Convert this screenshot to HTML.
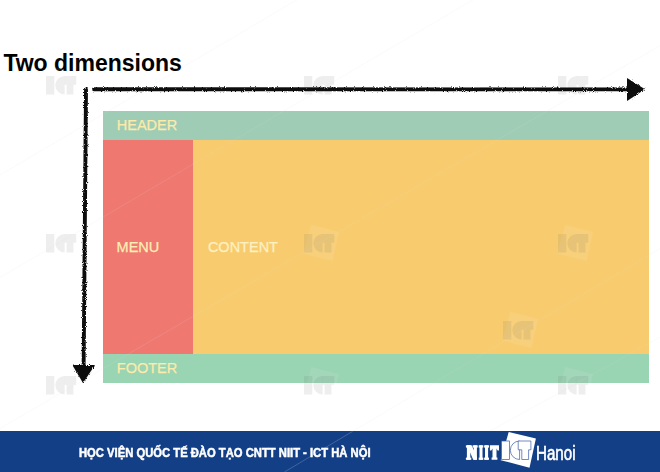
<!DOCTYPE html>
<html><head><meta charset="utf-8">
<style>
html,body{margin:0;padding:0;}
body{width:660px;height:472px;background:#fff;position:relative;overflow:hidden;font-family:"Liberation Sans",sans-serif;}
.abs{position:absolute;}
#title{left:3.4px;top:49px;font-size:23px;font-weight:bold;color:#000;line-height:28px;white-space:nowrap;transform-origin:0 0;transform:scaleX(1);}
#hdr{left:103px;top:111px;width:545.5px;height:29px;background:#9fccb5;}
#menu{left:103px;top:140px;width:90px;height:214px;background:#ef7871;}
#content{left:193px;top:140px;width:455.5px;height:214px;background:#f8cc6e;}
#ftr{left:103px;top:354px;width:545.5px;height:29px;background:#99d4b3;}
.lbl{font-size:14.5px;line-height:18px;white-space:nowrap;-webkit-text-stroke:0.25px currentColor;}
#bar{left:0;top:431px;width:660px;height:41px;background:#133f87;}
#bartxt{left:79.4px;top:444.6px;font-size:12.2px;font-weight:bold;color:#fff;line-height:16px;white-space:nowrap;transform-origin:0 0;transform:scaleX(0.922);-webkit-text-stroke:0.5px #fff;}
#hanoi{left:536px;top:441.3px;font-size:20.8px;color:#fff;line-height:24px;white-space:nowrap;transform-origin:0 0;transform:scaleX(0.728);-webkit-text-stroke:0.65px #fff;}
</style></head><body>
<!-- watermarks on white -->
<svg class="abs" style="left:0;top:0" width="660" height="472" viewBox="0 0 660 472">
<defs>
<g id="ict">
  <rect x="0" y="0" width="8.3" height="18.5"/>
  <path d="M18.6 0 A9.25 9.25 0 0 0 18.6 18.5 Z"/>
  <path d="M18.6 0 H30.2 V8.8 H27.4 V18.5 H20.6 V8.8 H18.6 Z"/>
</g>
<g id="wm">
  <path d="M7.3 -8.9 L35 -2 L28.5 27 L-0.6 19.6 Z" fill="#fff" fill-opacity="0.09"/>
  <use href="#ict" fill="#5a5a5a" fill-opacity="0.10"/>
</g>
<filter id="rough" x="-5%" y="-5%" width="110%" height="110%">
  <feTurbulence type="fractalNoise" baseFrequency="1.1" numOctaves="2" seed="7" result="n"/>
  <feDisplacementMap in="SourceGraphic" in2="n" scale="3" xChannelSelector="R" yChannelSelector="G"/>
</filter>
</defs>
</svg>
<div id="title" class="abs">Two dimensions</div>
<div id="hdr" class="abs"></div>
<div id="menu" class="abs"></div>
<div id="content" class="abs"></div>
<div id="ftr" class="abs"></div>
<div class="abs lbl" style="left:116.8px;top:116px;color:#fcebab;">HEADER</div>
<div class="abs lbl" style="left:116.6px;top:237.6px;color:#fdefb4;">MENU</div>
<div class="abs lbl" style="left:207.9px;top:237.6px;color:#fdf0c2;">CONTENT</div>
<div class="abs lbl" style="left:116.8px;top:359.3px;color:#fcebab;">FOOTER</div>
<svg class="abs" style="left:0;top:0" width="660" height="472" viewBox="0 0 660 472">
<g>
<use href="#wm" x="46" y="76"/><use href="#wm" x="304" y="76"/><use href="#wm" x="558" y="76"/>
<use href="#wm" x="46" y="234"/><use href="#wm" x="304" y="234"/><use href="#wm" x="558" y="234"/>
<use href="#wm" x="503" y="321"/>
<use href="#wm" x="46" y="376"/><use href="#wm" x="304" y="376"/><use href="#wm" x="558" y="376"/>
</g>
<g stroke="#dcdcdc" stroke-opacity="0.15" stroke-width="1" fill="none"><path d="M0 175.0 L660 -214.4"/><path d="M0 277.5 L660 -109.9"/><path d="M0 428.4 L660 45.6"/><path d="M0 641.2 L660 248.5"/><path d="M0 702.0 L660 337.1"/></g>
<g filter="url(#rough)">
<path d="M94 89.2 L630 89.4" stroke="#0d0d0d" stroke-width="3.9" fill="none" stroke-linecap="round"/>
<path d="M627 78 L645 89.3 L627 101 Z" fill="#0d0d0d"/>
<path d="M86 89.5 L83.6 368" stroke="#0d0d0d" stroke-width="3.9" fill="none" stroke-linecap="round"/>
<path d="M72.3 365 L95 365 L83 383 Z" fill="#0d0d0d"/>
</g>
</svg>
<div id="bar" class="abs"></div>
<svg class="abs" style="left:0;top:431px" width="660" height="41" viewBox="0 431 660 41"><path d="M284.4 472 L352.6 431.4" stroke="#fff" stroke-opacity="0.22" stroke-width="0.9" fill="none"/></svg>
<div id="bartxt" class="abs">HỌC VIỆN QUỐC TẾ ĐÀO TẠO CNTT NIIT - ICT HÀ NỘI</div>
<svg class="abs" style="left:0;top:431px" width="660" height="41" viewBox="0 431 660 41">
<!-- rotated white square -->
<path d="M508.7 431.9 L535.9 438.6 L529.5 467.7 L500.7 460.2 Z" fill="#fff"/>
<g fill="#fff" stroke="#3a5aa6" stroke-width="0.7">
  <rect x="501.4" y="441" width="8.2" height="18.5"/>
  <path d="M519.6 441 A9.25 9.25 0 0 0 519.6 459.5 Z"/>
  <path d="M518.2 441 H530.9 V449.8 H528.6 V459.5 H521.8 V449.8 H518.2 Z"/>
</g>
<!-- NIIT slab letters -->
<g fill="#fff">
  <!-- N -->
  <rect x="465.9" y="445.3" width="5" height="2.3"/>
  <rect x="466.9" y="445.3" width="3.4" height="14.5"/>
  <rect x="465.9" y="457.6" width="5.4" height="2.2"/>
  <path d="M467 445.3 H471.6 L476.9 457 V459.8 H473.2 Z"/>
  <rect x="473.7" y="445.3" width="3.2" height="14.5"/>
  <rect x="472.6" y="445.3" width="5.1" height="2.3"/>
  <!-- I -->
  <rect x="478.7" y="445.3" width="4.6" height="2.3"/>
  <rect x="479.5" y="445.3" width="3" height="14.5"/>
  <rect x="478.7" y="457.6" width="4.6" height="2.2"/>
  <!-- I -->
  <rect x="484.1" y="445.3" width="4.9" height="2.3"/>
  <rect x="485" y="445.3" width="3.1" height="14.5"/>
  <rect x="484.1" y="457.6" width="4.9" height="2.2"/>
  <!-- T -->
  <path d="M489.9 445.3 H499 V450.6 H497.6 L496.5 448.6 V457.6 H497.4 V459.8 H491.6 V457.6 H492.5 V448.6 L491.3 450.6 H489.9 Z"/>
</g>
</svg>
<div id="hanoi" class="abs">Hanoi</div>
</body></html>
